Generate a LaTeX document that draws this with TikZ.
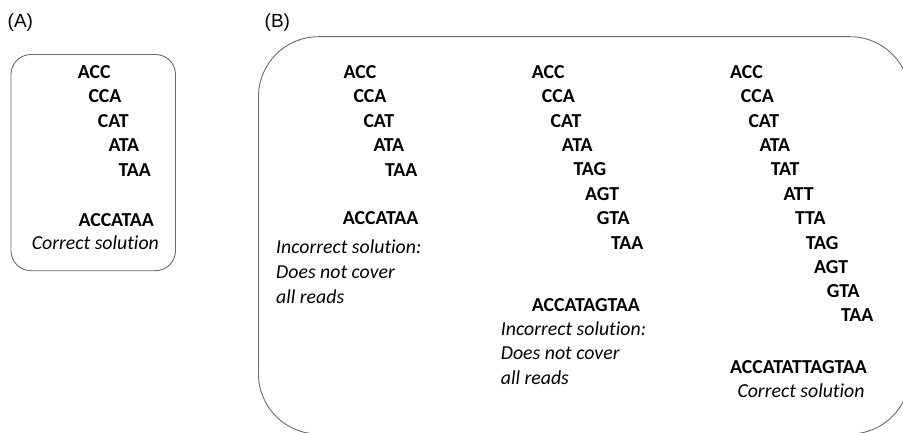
\documentclass[tikz,border=0pt]{standalone}
\usepackage{fontspec}
\setmainfont{Carlito}[Ligatures=NoCommon]
\newfontfamily\labelfont{Liberation Sans}
\begin{document}
\begin{tikzpicture}[x=1pt,y=-1pt,
  panel/.style={draw=black!58,line width=0.9pt},
  read/.style={anchor=base west,inner sep=0pt,font=\fontsize{19.8}{22}\selectfont\bfseries},
  note/.style={anchor=base west,inner sep=0pt,font=\fontsize{19.8}{22}\selectfont\itshape},
  tag/.style={anchor=base west,inner sep=0pt,font=\labelfont\fontsize{19}{21}\selectfont}]
\useasboundingbox (0,0) rectangle (903,433);

% panel labels
\node[tag] (labA) at (7.5,27.3) {(A)};
\node[tag] (labB) at (264.5,27.3) {(B)};

% panel frames
\draw[panel,rounded corners=20pt] (11,54.5) rectangle (175.5,270.7);
\draw[panel,rounded corners=60pt] (258.5,36.7) rectangle (910,434);

% (A): overlapping reads and the assembled string
\node[read] (a1) at (77.7,78.3) {ACC};
\node[read] (a2) at (88.3,102.8) {CCA};
\node[read] (a3) at (97.7,127.4) {CAT};
\node[read] (a4) at (108.3,152) {ATA};
\node[read] (a5) at (118.3,176.3) {TAA};
\node[read] (aS) at (78.3,226.7) {ACCATAA};
\node[note] (aN) at (31.7,249) {Correct solution};

% (B), first column
\node[read] (b1) at (343.3,78.3) {ACC};
\node[read] (b2) at (353.3,102.8) {CCA};
\node[read] (b3) at (363.3,127.4) {CAT};
\node[read] (b4) at (373.3,152) {ATA};
\node[read] (b5) at (385,176.3) {TAA};
\node[read] (bS) at (342.7,225) {ACCATAA};
\node[note] (bN1) at (276,254) {Incorrect solution:};
\node[note] (bN2) at (276,278.5) {Does not cover};
\node[note] (bN3) at (276,303) {all reads};

% (B), second column
\node[read] (c1) at (531.7,78.3) {ACC};
\node[read] (c2) at (541.7,102.8) {CCA};
\node[read] (c3) at (550.5,127.4) {CAT};
\node[read] (c4) at (561.7,152) {ATA};
\node[read] (c5) at (573.3,176) {TAG};
\node[read] (c6) at (585,200.5) {AGT};
\node[read] (c7) at (596.7,225) {GTA};
\node[read] (c8) at (611,249.8) {TAA};
\node[read] (cS) at (531.7,311.5) {ACCATAGTAA};
\node[note] (cN1) at (500.7,335) {Incorrect solution:};
\node[note] (cN2) at (500.7,359.5) {Does not cover};
\node[note] (cN3) at (500.7,384) {all reads};

% (B), third column
\node[read] (d1) at (730,78.3) {ACC};
\node[read] (d2) at (740.7,102.8) {CCA};
\node[read] (d3) at (748.3,127.4) {CAT};
\node[read] (d4) at (759.3,152) {ATA};
\node[read] (d5) at (770.7,176) {TAT};
\node[read] (d6) at (783.3,200.5) {ATT};
\node[read] (d7) at (795,225) {TTA};
\node[read] (d8) at (805.7,249.5) {TAG};
\node[read] (d9) at (814,273.5) {AGT};
\node[read] (d10) at (826.7,297) {GTA};
\node[read] (d11) at (841,321) {TAA};
\node[read] (dS) at (730,373.3) {ACCATATTAGTAA};
\node[note] (dN) at (737.3,397) {Correct solution};
\end{tikzpicture}
\end{document}
